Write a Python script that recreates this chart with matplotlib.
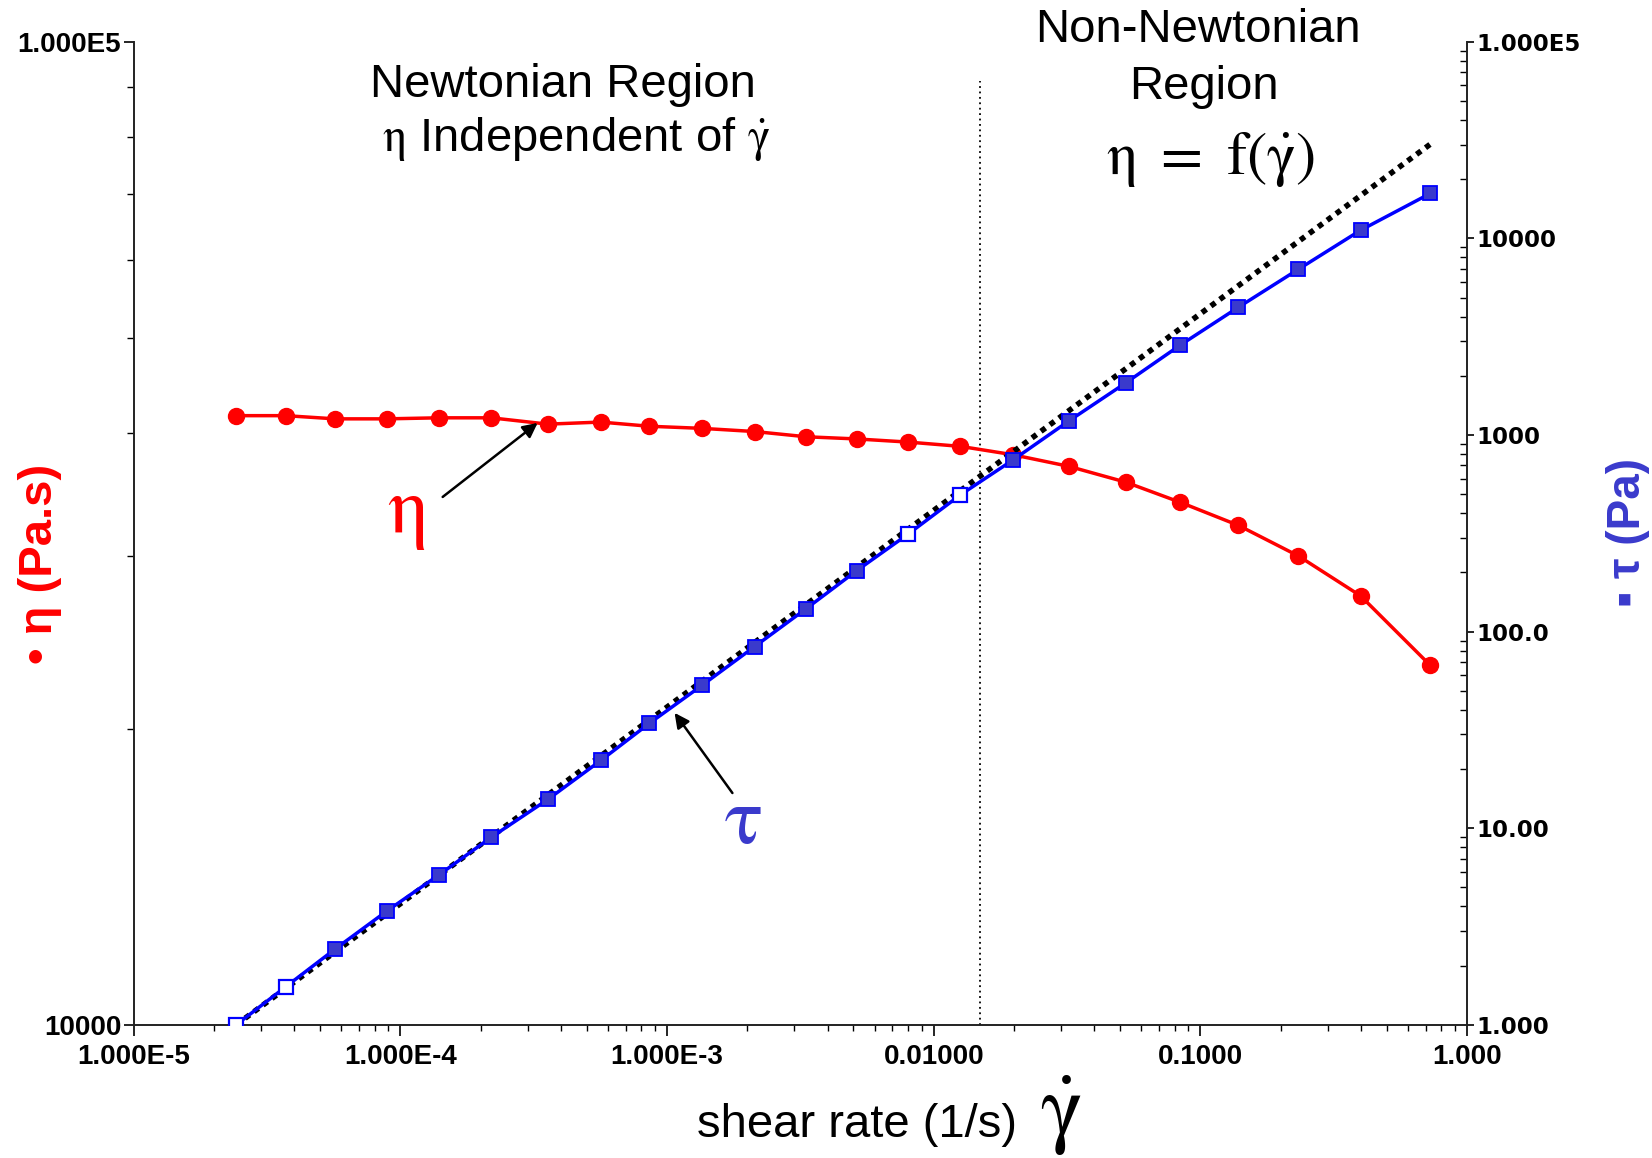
import numpy as np
import matplotlib
matplotlib.use("Agg")
import matplotlib.pyplot as plt
from matplotlib.ticker import LogLocator, NullFormatter

plt.rcParams['font.family'] = ['Liberation Sans', 'DejaVu Sans']
plt.rcParams['mathtext.fontset'] = 'stix'

# данные
shear_rate = [2.42e-5, 3.71e-5, 5.69e-5, 8.89e-5, 1.39e-4, 2.19e-4, 3.57e-4, 5.64e-4,
              8.57e-4, 1.35e-3, 2.13e-3, 3.33e-3, 5.14e-3, 8.04e-3, 1.26e-2, 1.98e-2,
              3.21e-2, 5.24e-2, 8.41e-2, 0.139, 0.233, 0.399, 0.728]
viscosity = [41650, 41650, 41340, 41340, 41440, 41440, 40830, 41030, 40630, 40430,
             40130, 39640, 39440, 39150, 38760, 38010, 36990, 35650, 34000, 32210,
             29990, 27310, 23210]
stress = [1.0, 1.56, 2.43, 3.79, 5.77, 8.99, 14.0, 22.1, 34.1, 53.2, 83.9, 131, 204,
          314, 496, 745, 1177, 1836, 2864, 4463, 6955, 10990, 16910]
stress_hollow = [True, True, False, False, False, False, False, False, False, False,
                 False, False, False, True, True, False, False, False, False, False,
                 False, False, False]

newton_x = [2.42e-5, 0.75]
newton_tau = [1.0, 31000]
transition_rate = 0.0149

x_ticks = [1e-5, 1e-4, 1e-3, 1e-2, 1e-1, 1.0]
x_labels = ["1.000E-5", "1.000E-4", "1.000E-3", "0.01000", "0.1000", "1.000"]
eta_ticks = [1e4, 1e5]
eta_labels = ["10000", "1.000E5"]
tau_ticks = [1, 10, 100, 1000, 1e4, 1e5]
tau_labels = ["1.000", "10.00", "100.0", "1000", "10000", "1.000E5"]

RED = '#ff0000'
BLUE = '#0000ff'
BLUE_FILL = '#3a3acc'

fig = plt.figure(figsize=(16.52, 11.58), dpi=100)
ax = fig.add_axes([0.081, 0.115, 0.807, 0.849])
ax2 = ax.twinx()

ax.set_xscale('log')
ax.set_yscale('log')
ax2.set_yscale('log')
ax.set_xlim(1e-5, 1.0)
ax.set_ylim(1e4, 1e5)
ax2.set_ylim(1, 1e5)

# вязкость
ax.plot(shear_rate, viscosity, color=RED, lw=2.5, marker='o', ms=11.5,
        mfc=RED, mec=RED, zorder=3)

# вертикальная граница областей
ax.axvline(transition_rate, ymin=0, ymax=0.96, color='black', lw=1.3,
           linestyle=(0, (1, 2)), zorder=2)

# ньютоновская асимптота и напряжение
ax2.plot(newton_x, newton_tau, color='black', lw=4, linestyle=(0, (1, 1)), zorder=2)
ax2.plot(shear_rate, stress, color=BLUE, lw=2.5, zorder=3)
sx = np.array(shear_rate)
st = np.array(stress)
hol = np.array(stress_hollow)
ax2.plot(sx[~hol], st[~hol], linestyle='none', marker='s', ms=9.5,
         mfc=BLUE_FILL, mec=BLUE, mew=1.3, zorder=4)
ax2.plot(sx[hol], st[hol], linestyle='none', marker='s', ms=9.5,
         mfc='white', mec=BLUE, mew=1.6, zorder=4)

# оси и подписи делений
for a in (ax, ax2):
    a.spines['top'].set_visible(False)
    for s in a.spines.values():
        s.set_linewidth(1.4)
        s.set_color('#222222')
ax.spines['right'].set_visible(False)
ax2.spines['left'].set_visible(False)
ax2.spines['bottom'].set_visible(False)

ax.set_xticks(x_ticks, x_labels)
ax.xaxis.set_minor_locator(LogLocator(subs=np.arange(2, 10)))
ax.xaxis.set_minor_formatter(NullFormatter())
ax.set_yticks(eta_ticks, eta_labels)
ax.yaxis.set_minor_locator(LogLocator(subs=np.arange(2, 10)))
ax.yaxis.set_minor_formatter(NullFormatter())
ax2.set_yticks(tau_ticks, tau_labels)
ax2.yaxis.set_minor_locator(LogLocator(subs=np.arange(2, 10)))
ax2.yaxis.set_minor_formatter(NullFormatter())

ax.tick_params(axis='x', which='major', direction='out', length=8, width=1.2, pad=6,
               labelsize=20)
ax.tick_params(axis='x', which='minor', direction='out', length=4.5, width=1.0)
ax.tick_params(axis='y', which='major', direction='out', length=7, width=1.2, pad=2,
               labelsize=20)
ax.tick_params(axis='y', which='minor', direction='out', length=5, width=1.0)
ax2.tick_params(axis='y', which='major', direction='out', length=5, width=1.2, pad=2,
                labelsize=16.5)
ax2.tick_params(axis='y', which='minor', direction='in', length=5, width=1.0)
for lab in ax.get_xticklabels() + ax.get_yticklabels():
    lab.set_fontweight('bold')
for lab in ax2.get_yticklabels():
    lab.set_fontweight('bold')
    lab.set_family('DejaVu Sans')

# подписи осей
fig.text(0.0245, 0.513, "• η (Pa.s)", rotation=90, ha='center', va='center',
         fontsize=34, fontweight='bold', color=RED)
fig.text(0.9853, 0.540, "▪ τ (Pa)", rotation=90, ha='center', va='center',
         fontsize=33, fontweight='bold', color=BLUE_FILL)
fig.text(0.5185, 0.0285, "shear rate (1/s)", ha='center', va='center', fontsize=34)
fig.text(0.642, 0.036, r"$\dot{\mathrm{\gamma}}$", ha='center', va='center', fontsize=64)

# надписи областей
fig.text(0.341, 0.927, "Newtonian Region", ha='center', va='center', fontsize=34)
fig.text(0.349, 0.880, r"$\mathrm{\eta}$ Independent of $\dot{\mathrm{\gamma}}$",
         ha='center', va='center', fontsize=34)
fig.text(0.725, 0.9745, "Non-Newtonian", ha='center', va='center', fontsize=34)
fig.text(0.729, 0.925, "Region", ha='center', va='center', fontsize=34)
fig.text(0.733, 0.862, r"$\mathrm{\eta}\ =\ \mathrm{f}(\dot{\mathrm{\gamma}})$",
         ha='center', va='center', fontsize=44)

# стрелки
ax.annotate("", xy=(3.27e-4, 40950), xytext=(1.44e-4, 34430),
            arrowprops=dict(arrowstyle='-|>', color='black', lw=1.8,
                            mutation_scale=22, shrinkA=0, shrinkB=0))
ax.text(1.047e-4, 33100, r"$\mathrm{\eta}$", color=RED, fontsize=58,
        ha='center', va='center')
ax2.annotate("", xy=(1.067e-3, 38.6), xytext=(1.758e-3, 15.1),
             arrowprops=dict(arrowstyle='-|>', color='black', lw=1.8,
                             mutation_scale=22, shrinkA=0, shrinkB=0))
ax2.text(1.93e-3, 10.8, r"$\mathrm{\tau}$", color=BLUE_FILL, fontsize=58,
         ha='center', va='center')

fig.savefig("out.png", dpi=100)
